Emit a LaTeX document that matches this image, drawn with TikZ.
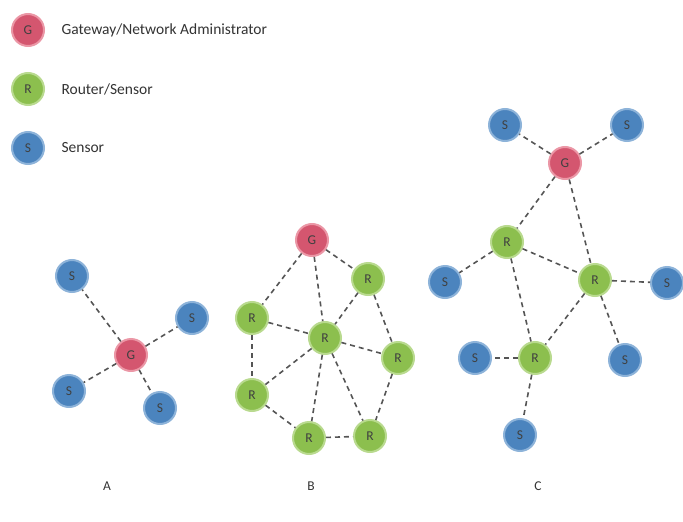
\documentclass[tikz,border=0pt]{standalone}
\usepackage{fontspec}
\setmainfont{Carlito}
\definecolor{gwred}{HTML}{D4566F}
\definecolor{gwring}{HTML}{EB97A6}
\definecolor{rtgreen}{HTML}{8CBF4E}
\definecolor{rtring}{HTML}{B9DA8F}
\definecolor{snblue}{HTML}{4B84BE}
\definecolor{snring}{HTML}{8DB3D9}
\definecolor{linkgray}{HTML}{555555}
\tikzstyle{gw}=[circle,fill=gwred,draw=gwring,line width=2pt,minimum size=32pt,inner sep=0pt,text=black!75,font=\fontsize{13.5}{13.5}\selectfont]
\tikzstyle{rt}=[circle,fill=rtgreen,draw=rtring,line width=2pt,minimum size=32pt,inner sep=0pt,text=black!75,font=\fontsize{13.5}{13.5}\selectfont]
\tikzstyle{sn}=[circle,fill=snblue,draw=snring,line width=2pt,minimum size=32pt,inner sep=0pt,text=black!75,font=\fontsize{13.5}{13.5}\selectfont]
\tikzstyle{link}=[draw=linkgray,line width=1.6pt,dash pattern=on 5pt off 4pt]
\tikzstyle{legtext}=[anchor=west,text=black!80,font=\fontsize{15.5}{15.5}\selectfont]
\tikzstyle{caption}=[text=black!80,font=\fontsize{13.5}{13.5}\selectfont]

\begin{document}
\begin{tikzpicture}[x=1pt,y=-1pt]
\useasboundingbox (0,0) rectangle (683,522);
\node[gw] (LG) at (28,30) {G};
\node[rt] (LR) at (28,89) {R};
\node[sn] (LS) at (28,148) {S};
\node[legtext] (LGt) at (58,30) {Gateway/Network Administrator};
\node[legtext] (LRt) at (58,89) {Router/Sensor};
\node[legtext] (LSt) at (58,148) {Sensor};
\node[gw] (AG) at (131,355) {G};
\node[sn] (AS1) at (72,276) {S};
\node[sn] (AS2) at (192,318) {S};
\node[sn] (AS3) at (69,391) {S};
\node[sn] (AS4) at (160,408) {S};
\node[gw] (BG) at (312,240) {G};
\node[rt] (BR1) at (368,279) {R};
\node[rt] (BR2) at (252,318) {R};
\node[rt] (BR3) at (325,338) {R};
\node[rt] (BR4) at (398,358) {R};
\node[rt] (BR5) at (252,395) {R};
\node[rt] (BR6) at (309,438) {R};
\node[rt] (BR7) at (370,436) {R};
\node[gw] (CG) at (565,163) {G};
\node[sn] (CS1) at (505,125) {S};
\node[sn] (CS2) at (627,125) {S};
\node[rt] (CR1) at (507,242) {R};
\node[rt] (CR2) at (595,280) {R};
\node[rt] (CR3) at (535,358) {R};
\node[sn] (CS3) at (445,282) {S};
\node[sn] (CS4) at (667,283) {S};
\node[sn] (CS5) at (625,360) {S};
\node[sn] (CS6) at (475,358) {S};
\node[sn] (CS7) at (520,435) {S};
\node[caption] (A) at (107,486) {A};
\node[caption] (B) at (311,486) {B};
\node[caption] (C) at (538,486) {C};
\draw[link] (AG) -- (AS1);
\draw[link] (AG) -- (AS2);
\draw[link] (AG) -- (AS3);
\draw[link] (AG) -- (AS4);
\draw[link] (BG) -- (BR1);
\draw[link] (BG) -- (BR2);
\draw[link] (BG) -- (BR3);
\draw[link] (BR1) -- (BR3);
\draw[link] (BR1) -- (BR4);
\draw[link] (BR2) -- (BR3);
\draw[link] (BR2) -- (BR5);
\draw[link] (BR3) -- (BR4);
\draw[link] (BR3) -- (BR5);
\draw[link] (BR3) -- (BR6);
\draw[link] (BR3) -- (BR7);
\draw[link] (BR5) -- (BR6);
\draw[link] (BR6) -- (BR7);
\draw[link] (BR4) -- (BR7);
\draw[link] (CG) -- (CS1);
\draw[link] (CG) -- (CS2);
\draw[link] (CG) -- (CR1);
\draw[link] (CG) -- (CR2);
\draw[link] (CR1) -- (CS3);
\draw[link] (CR1) -- (CR2);
\draw[link] (CR1) -- (CR3);
\draw[link] (CR2) -- (CS4);
\draw[link] (CR2) -- (CS5);
\draw[link] (CR2) -- (CR3);
\draw[link] (CR3) -- (CS6);
\draw[link] (CR3) -- (CS7);
\end{tikzpicture}
\end{document}
